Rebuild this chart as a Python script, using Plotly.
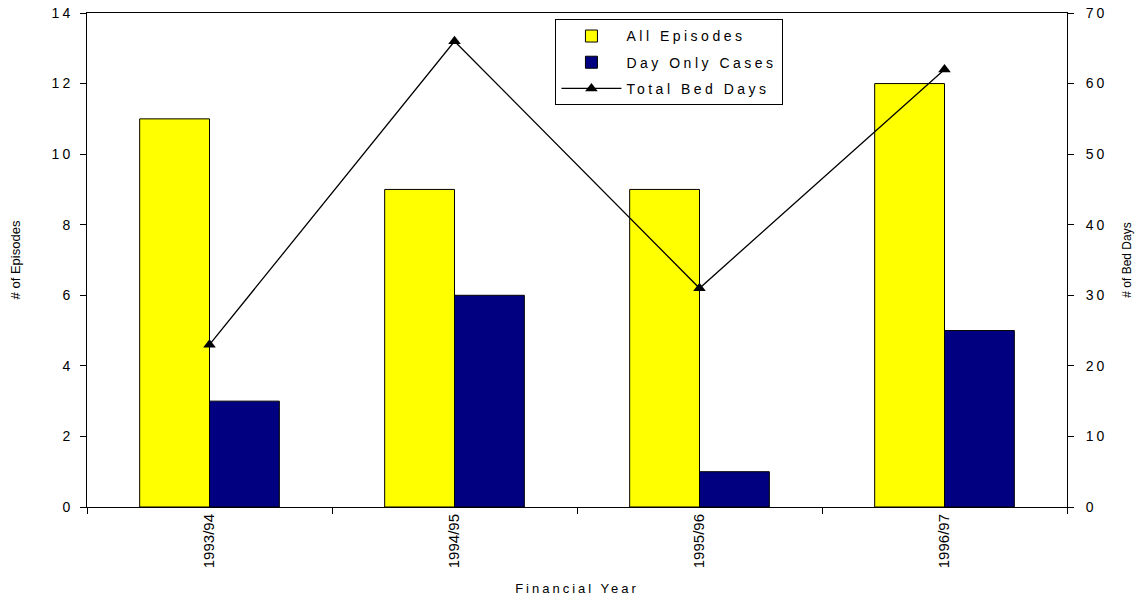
import plotly.graph_objects as go

years = ["1993/94", "1994/95", "1995/96", "1996/97"]
all_episodes = [11, 9, 9, 12]
day_only_cases = [3, 6, 1, 5]
total_bed_days = [23, 66, 31, 62]

episode_ticks = [0, 2, 4, 6, 8, 10, 12, 14]
bed_day_ticks = [0, 10, 20, 30, 40, 50, 60, 70]

font_family = "Liberation Sans, Arial, sans-serif"


def spaced(text, px):
    return f'<span style="letter-spacing:{px}px">{text}</span>'


fig = go.Figure()
fig.add_trace(go.Bar(
    x=years, y=all_episodes, name=spaced("All Episodes", 3.5), legendgroup="a",
    marker=dict(color="#FFFF00", line=dict(color="black", width=1)),
))
fig.add_trace(go.Bar(
    x=years, y=day_only_cases, name=spaced("Day Only Cases", 3.5), legendgroup="b",
    marker=dict(color="#000080", line=dict(color="black", width=1)),
))
fig.add_trace(go.Scatter(
    x=years, y=total_bed_days, name=spaced("Total Bed Days", 3.5), legendgroup="c",
    yaxis="y2", mode="lines+markers",
    line=dict(color="black", width=1.3),
    marker=dict(symbol="triangle-up", size=11, color="black"),
))

fig.update_layout(
    width=1140, height=601,
    margin=dict(l=87, r=73, t=13, b=94),
    paper_bgcolor="white", plot_bgcolor="white",
    font=dict(family=font_family, size=13, color="black"),
    barmode="group", bargap=0.43, bargroupgap=0,
    showlegend=True,
    legend=dict(
        x=0.478, y=0.987, xanchor="left", yanchor="top",
        bordercolor="black", borderwidth=1, bgcolor="white",
        font=dict(size=14), itemwidth=60, tracegroupgap=5,
    ),
    xaxis=dict(
        type="category", tickson="boundaries",
        ticks="outside", ticklen=6, tickcolor="black",
        tickangle=-90, showline=True, linecolor="black", linewidth=1,
        mirror=True, showgrid=False, automargin=False,
        tickfont=dict(size=15),
        title=dict(text=spaced("Financial Year", 3), font=dict(size=13), standoff=16),
    ),
    yaxis=dict(
        range=[0, 14], tickmode="array", tickvals=episode_ticks,
        ticktext=[spaced(str(v), 3) for v in episode_ticks],
        ticks="outside", ticklen=6, tickcolor="black", ticklabelstandoff=4,
        showline=True, linecolor="black", linewidth=1, showgrid=False,
        zeroline=False, tickfont=dict(size=14), automargin=False,
        title=dict(text="# of Episodes", font=dict(size=13), standoff=28),
    ),
    yaxis2=dict(
        range=[0, 70], tickmode="array", tickvals=bed_day_ticks,
        ticktext=[spaced(str(v), 3) for v in bed_day_ticks],
        overlaying="y", side="right",
        ticks="outside", ticklen=6, tickcolor="black", ticklabelstandoff=9,
        showline=True, linecolor="black", linewidth=1, showgrid=False,
        zeroline=False, tickfont=dict(size=14), automargin=False,
        title=dict(text="# of Bed Days", font=dict(size=12), standoff=16),
    ),
)

fig.write_html("out.html")
